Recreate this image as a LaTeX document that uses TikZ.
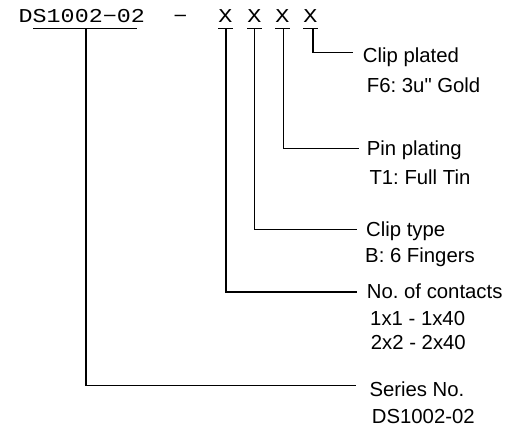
\documentclass[tikz,border=0pt]{standalone}
\usepackage{fontspec}
\setmainfont{Liberation Sans}
\newfontfamily\lblfont{Liberation Sans}
\newfontfamily\hdrfont[FakeStretch=1.19]{Liberation Mono}
\frenchspacing
\begin{document}
\begin{tikzpicture}[x=1bp,y=-1bp,
  hdr/.style={inner sep=0pt,font=\hdrfont\fontsize{19.7}{22}\selectfont},
  lbl/.style={inner sep=0pt,anchor=base west,text depth=0pt,font=\lblfont\fontsize{20.4}{24}\selectfont},
  conn/.style={line width=1.6bp},
  ul/.style={line width=1.3bp}]
\useasboundingbox (0,0) rectangle (511,426);
% header
\node[hdr,anchor=base west] (ser) at (18.5,22.7) {DS1002−02};
\node[hdr,anchor=base] (dash) at (180.5,22.7) {−};
\node[hdr,anchor=base] (x1) at (225.5,22.7) {X};
\node[hdr,anchor=base] (x2) at (254.5,22.7) {X};
\node[hdr,anchor=base] (x3) at (282.5,22.7) {X};
\node[hdr,anchor=base] (x4) at (310.5,22.7) {X};
% underlines
\draw[ul] (33,28.8) -- (137,28.8);
\draw[ul] (218,28.8) -- (233,28.8);
\draw[ul] (247,28.8) -- (262,28.8);
\draw[ul] (275,28.8) -- (290,28.8);
\draw[ul] (303,28.8) -- (318,28.8);
% labels
\node[lbl] (l4a) at (362.7,62.7) {Clip plated};
\node[lbl] (l4b) at (366.7,92.3) {F6: 3u" Gold};
\node[lbl] (l3a) at (366.7,155) {Pin plating};
\node[lbl] (l3b) at (369.3,184.3) {T1: Full Tin};
\node[lbl] (l2a) at (366,236.7) {Clip type};
\node[lbl] (l2b) at (365,262.7) {B: 6 Fingers};
\node[lbl] (l1a) at (366.7,298.3) {No. of contacts};
\node[lbl] (l1b) at (370,325) {1x1 - 1x40};
\node[lbl] (l1c) at (370.7,349.3) {2x2 - 2x40};
\node[lbl] (l0a) at (369.3,396) {Series No.};
\node[lbl] (l0b) at (371.7,423.3) {DS1002-02};
% connector ends
\coordinate (t0) at (86,28.8);
\coordinate (t1) at (226,28.8);
\coordinate (t2) at (254.5,28.8);
\coordinate (t3) at (283.5,28.8);
\coordinate (t4) at (313,28.8);
\coordinate (e0) at (356,385.3);
\coordinate (e1) at (356.7,292);
\coordinate (e2) at (356.7,229.3);
\coordinate (e3) at (359,148.3);
\coordinate (e4) at (353.3,52.5);
\draw[conn] (t0) |- (e0);
\draw[conn] (t1) |- (e1);
\draw[conn] (t2) |- (e2);
\draw[conn] (t3) |- (e3);
\draw[conn] (t4) |- (e4);
\end{tikzpicture}
\end{document}
